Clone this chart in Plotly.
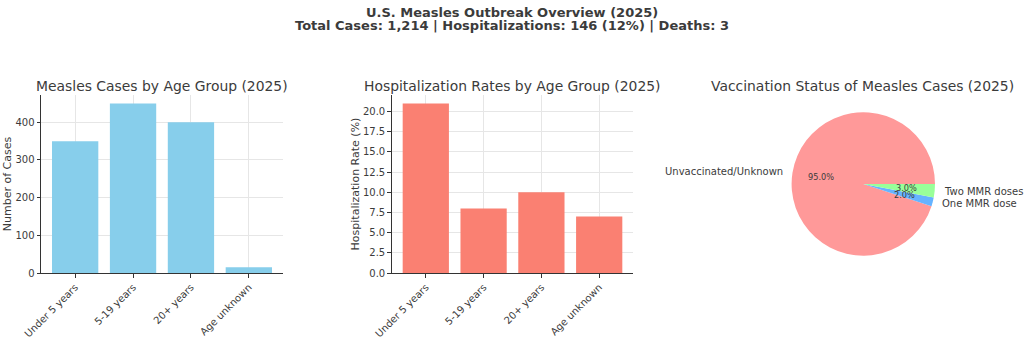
import math
import plotly.graph_objects as go

# ---- data ----
age_groups = ["Under 5 years", "5-19 years", "20+ years", "Age unknown"]
cases = [350, 450, 400, 15]
hosp_rates = [21, 8, 10, 7]
vacc_labels = ["Unvaccinated/Unknown", "One MMR dose", "Two MMR doses"]
vacc_values = [95, 2, 3]

W, H = 1024, 338
FONT = "DejaVu Sans"
TXT = "#3b3b3b"

bar_colors = ["#87CEEB", "#FA8072"]
pie_colors = ["#ff9999", "#66b3ff", "#99ff99"]

fig = go.Figure()
fig.add_trace(go.Bar(x=age_groups, y=cases, width=0.8, marker=dict(color=bar_colors[0], line=dict(width=0)),
                     xaxis="x", yaxis="y", showlegend=False))
fig.add_trace(go.Bar(x=age_groups, y=hosp_rates, width=0.8, marker=dict(color=bar_colors[1], line=dict(width=0)),
                     xaxis="x2", yaxis="y2", showlegend=False))

# pie geometry (px); matplotlib-style start at 3 o'clock, counterclockwise
total = sum(vacc_values)
cx, cy, r = 863.3, 184.0, 71.7
# plotly counterclockwise: 'rotation' marks the clockwise end of the first slice
rot = 90 + 360 * (1 - vacc_values[0] / total)
fig.add_trace(go.Pie(labels=vacc_labels, values=vacc_values, sort=False, direction="counterclockwise",
                     rotation=rot, marker=dict(colors=pie_colors, line=dict(width=0)),
                     textinfo="none", hoverinfo="label+percent", showlegend=False,
                     domain=dict(x=[(cx - r) / W, (cx + r) / W], y=[1 - (cy + r) / H, 1 - (cy - r) / H])))

yd = [1 - 273 / H, 1 - 95 / H]
axis_common = dict(showline=True, linecolor="#333333", linewidth=1, ticks="outside", ticklen=3.5,
                   tickcolor="#333333", tickfont=dict(family=FONT, size=10, color=TXT),
                   showgrid=True, gridcolor="#e6e6e6", gridwidth=0.8, zeroline=False, mirror=False,
                   automargin=False)

fig.update_layout(
    width=W, height=H, margin=dict(l=0, r=0, t=0, b=0, autoexpand=False),
    paper_bgcolor="white", plot_bgcolor="white",
    font=dict(family=FONT, color=TXT),
    xaxis=dict(domain=[41 / W, 283 / W], range=[-0.59, 3.59], tickangle=-45, anchor="y", **axis_common),
    yaxis=dict(domain=yd, range=[0, 472.5], tickvals=[0, 100, 200, 300, 400], anchor="x",
               title=dict(text="Number of Cases", font=dict(family=FONT, size=11, color=TXT), standoff=1),
               **axis_common),
    xaxis2=dict(domain=[391.7 / W, 633.3 / W], range=[-0.59, 3.59], tickangle=-45, anchor="y2", **axis_common),
    yaxis2=dict(domain=yd, range=[0, 22.05], tickvals=[0, 2.5, 5, 7.5, 10, 12.5, 15, 17.5, 20],
                ticktext=["0.0", "2.5", "5.0", "7.5", "10.0", "12.5", "15.0", "17.5", "20.0"], anchor="x2",
                title=dict(text="Hospitalization Rate (%)", font=dict(family=FONT, size=11, color=TXT), standoff=1),
                **axis_common),
)

ann = []
# suptitle (two lines)
for txt, yc in [("<b>U.S. Measles Outbreak Overview (2025)</b>", 12.5),
                ("<b>Total Cases: 1,214 | Hospitalizations: 146 (12%) | Deaths: 3</b>", 26)]:
    ann.append(dict(text=txt, x=0.5, y=1 - yc / H, xref="paper", yref="paper", xanchor="center",
                    yanchor="middle", showarrow=False, font=dict(family=FONT, size=13, color=TXT)))
# subplot titles
for txt, xc in [("Measles Cases by Age Group (2025)", 162 / W),
                ("Hospitalization Rates by Age Group (2025)", 512.5 / W),
                ("Vaccination Status of Measles Cases (2025)", 862 / W)]:
    ann.append(dict(text=txt, x=xc, y=1 - 85.5 / H, xref="paper", yref="paper", xanchor="center",
                    yanchor="middle", showarrow=False, font=dict(family=FONT, size=13.9, color=TXT)))

# pie labels, matplotlib-style positions derived from the values
start = 0.0
for lab, v in zip(vacc_labels, vacc_values):
    frac = v / total
    mid = math.radians((start + frac / 2) * 360)
    start += frac
    lx = cx + 1.1 * r * math.cos(mid)
    ly = cy - 1.1 * r * math.sin(mid)
    ann.append(dict(text=lab, x=lx / W, y=1 - ly / H, xref="paper", yref="paper",
                    xanchor="left" if math.cos(mid) > 0 else "right", yanchor="middle",
                    showarrow=False, font=dict(family=FONT, size=10, color=TXT)))
    px_ = cx + 0.6 * r * math.cos(mid)
    py_ = cy - 0.6 * r * math.sin(mid)
    ann.append(dict(text=f"{frac * 100:.1f}%", x=px_ / W, y=1 - py_ / H, xref="paper", yref="paper",
                    xanchor="center", yanchor="middle", showarrow=False,
                    font=dict(family=FONT, size=8.2, color=TXT)))

fig.update_layout(annotations=ann)
fig.write_html("out.html")
